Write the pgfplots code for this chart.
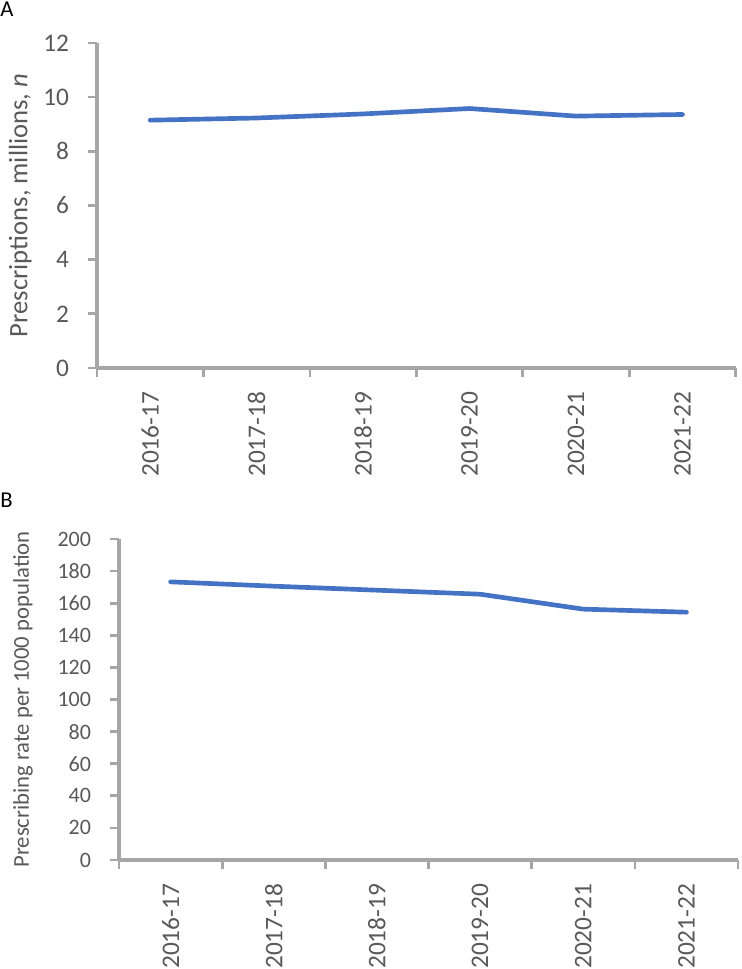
\documentclass[border=0pt]{standalone}
\usepackage{fontspec}
\setmainfont{Carlito}
\usepackage{pgfplots}
\pgfplotsset{compat=1.18}
\definecolor{lineblue}{HTML}{4472C4}
\definecolor{axgray}{HTML}{A6A6A6}
\definecolor{txtgray}{HTML}{595959}

\pgfplotsset{
  excelline/.style={
    scale only axis,
    axis lines=left,
    axis line style={draw=axgray, line width=2.4pt, -},
    xmin=-0.5, xmax=5.5, ymin=0,
    xtick={-0.5,0.5,...,5.5},
    xticklabels={},
    extra x ticks={0,1,2,3,4,5},
    extra x tick labels={2016-17,2017-18,2018-19,2019-20,2020-21,2021-22},
    extra x tick style={tick style={draw=none},
      xticklabel style={rotate=90, anchor=east, text=txtgray,
        font=\fontsize{19}{19}\selectfont}},
    xticklabel shift=8pt,
    yticklabel shift=11pt,
    tick style={draw=axgray, line width=2pt},
    tick align=outside,
    major tick length=6.5pt,
    yticklabel style={text=txtgray, anchor=east},
    ylabel style={text=txtgray},
    /pgf/number format/assume math mode=true,
    clip=false,
  }
}

\begin{document}
\begin{tikzpicture}
\useasboundingbox (0,0) rectangle (555.75pt,726.75pt);

\node[anchor=base west, inner sep=0pt, font=\fontsize{17}{17}\selectfont] at (0,714pt) {A};
\node[anchor=base west, inner sep=0pt, font=\fontsize{17}{17}\selectfont] at (0,345.75pt) {B};

% panel A: prescriptions
\begin{axis}[excelline,
  at={(72.75pt,450.75pt)}, anchor=south west,
  width=479pt, height=243.75pt,
  ymax=12, ytick={0,2,...,12},
  yticklabel style={font=\fontsize{19}{19}\selectfont},
  ylabel={Prescriptions, millions, \textit{n}},
  ylabel style={font=\fontsize{20}{20}\selectfont, at={(axis description cs:0,0.5)}, anchor=south, inner sep=0pt, yshift=48.75pt},
]
\addplot[color=lineblue, line width=3.5pt, line cap=round, line join=round]
  coordinates {(0,9.15)(1,9.23)(2,9.38)(3,9.58)(4,9.30)(5,9.36)};
\end{axis}

% panel B: rate per 1000
\begin{axis}[excelline,
  at={(89.25pt,81.75pt)}, anchor=south west,
  width=464.25pt, height=240.75pt,
  ymax=200, ytick={0,20,...,200},
  yticklabel style={font=\fontsize{16.5}{16.5}\selectfont},
  ylabel={Prescribing rate per 1000 population},
  ylabel style={font=\fontsize{17}{17}\selectfont, at={(axis description cs:0,0.5)}, anchor=south, inner sep=0pt, yshift=64.5pt},
]
\addplot[color=lineblue, line width=3.5pt, line cap=round, line join=round]
  coordinates {(0,173.3)(1,170.6)(2,168.1)(3,165.6)(4,156.3)(5,154.4)};
\end{axis}
\end{tikzpicture}
\end{document}
